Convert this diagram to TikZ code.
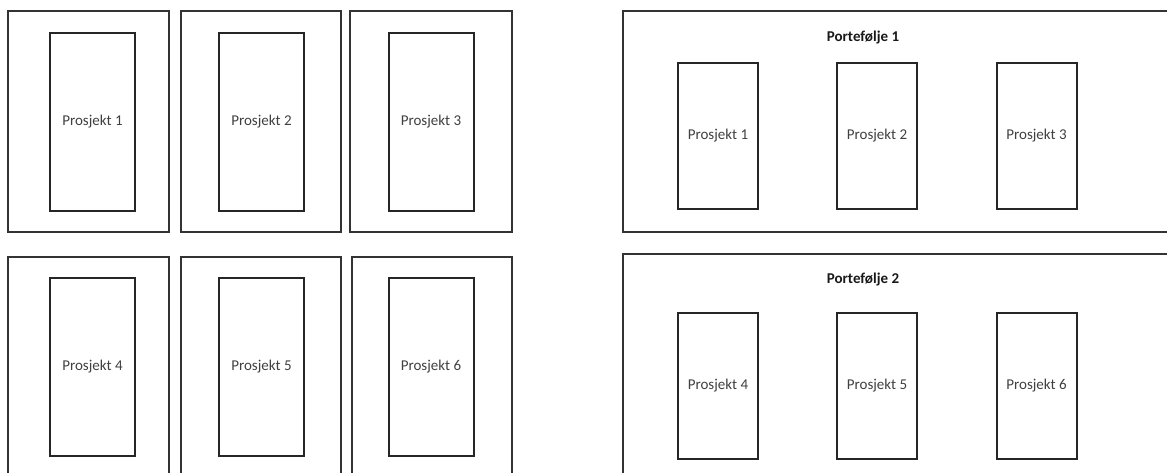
\documentclass[tikz,border=0pt]{standalone}
\usepackage{fontspec}
\setmainfont{Carlito}
\usepackage{tikz}
\usetikzlibrary{positioning}

\begin{document}
\begin{tikzpicture}[x=1pt,y=-1pt,
    outerbox/.style={draw=black!80,line width=2pt,inner sep=0pt},
    projbox/.style={draw=black!85,line width=2pt,inner sep=0pt,minimum width=85pt,minimum height=178pt,font=\fontsize{15}{17}\selectfont,text=black!75},
    portbox/.style={draw=black!85,line width=2pt,inner sep=0pt,minimum width=80pt,minimum height=146pt,font=\fontsize{15}{17}\selectfont,text=black!75},
    porttitle/.style={inner sep=0pt,font=\fontsize{15}{17}\selectfont\bfseries,text=black!90}]
      \clip (0,0) rectangle (1167,472);
      \fill[white] (0,0) rectangle (1167,472);
      % one project per frame
      \node[outerbox,minimum width=161pt,minimum height=221pt] (frameA) at (88.5,121.5) {};
      \node[outerbox,minimum width=160pt,minimum height=221pt] (frameB) at (261,121.5) {};
      \node[outerbox,minimum width=162pt,minimum height=221pt] (frameC) at (431,121.5) {};
      \node[outerbox,minimum width=161pt,minimum height=233pt] (frameD) at (88.5,373.5) {};
      \node[outerbox,minimum width=160pt,minimum height=233pt] (frameE) at (261,373.5) {};
      \node[outerbox,minimum width=160pt,minimum height=233pt] (frameF) at (432,373.5) {};
      \node[projbox] (projA) at (92.5,122) {Prosjekt 1};
      \node[projbox] (projB) at (261.5,122) {Prosjekt 2};
      \node[projbox] (projC) at (431,122) {Prosjekt 3};
      \node[projbox] (projD) at (92.5,367) {Prosjekt 4};
      \node[projbox] (projE) at (261.5,367) {Prosjekt 5};
      \node[projbox] (projF) at (431,367) {Prosjekt 6};
      % portfolios
      \node[outerbox,minimum width=557pt,minimum height=221pt] (portA) at (901.5,121.5) {};
      \node[outerbox,minimum width=557pt,minimum height=236pt] (portB) at (901.5,372) {};
      \node[porttitle] (titleA) at (863,38) {Portefølje 1};
      \node[porttitle] (titleB) at (863,279) {Portefølje 2};
      \node[portbox] (pA) at (718,136) {Prosjekt 1};
      \node[portbox] (pB) at (877,136) {Prosjekt 2};
      \node[portbox] (pC) at (1036.5,136) {Prosjekt 3};
      \node[portbox] (pD) at (718,385.5) {Prosjekt 4};
      \node[portbox] (pE) at (877,385.5) {Prosjekt 5};
      \node[portbox] (pF) at (1036.5,385.5) {Prosjekt 6};
    \end{tikzpicture}
\end{document}
